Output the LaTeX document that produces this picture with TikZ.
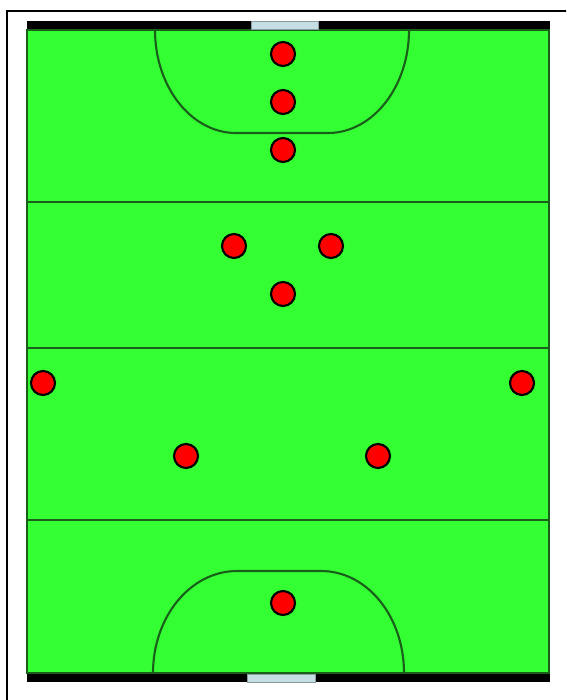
\documentclass[tikz,border=0pt]{standalone}
\definecolor{pitch}{RGB}{51,255,51}
\definecolor{pline}{RGB}{25,95,25}
\definecolor{goalc}{RGB}{196,222,228}
\tikzset{
  player/.style={circle,draw=black,fill=red,line width=0.6pt,minimum size=0.24cm,inner sep=0pt},
  fieldline/.style={draw=pline,line width=0.6pt},
}
\begin{document}
\begin{tikzpicture}[x=0.01cm,y=-0.01cm]
\useasboundingbox (0,0) rectangle (566,700);
\fill[white] (0,0) rectangle (566,700);
\begin{scope}
\clip (0,0) rectangle (566,700);
\draw[black,line width=0.6pt] (7,720) -- (7,11) -- (580,11);
\end{scope}
% end bars
\fill[black] (27,21) rectangle (550,30);
\fill[black] (27,673) rectangle (550,682);
% pitch
\filldraw[fill=pitch,draw=pline,line width=0.5pt] (27,30) rectangle (549,673);
% goals
\filldraw[fill=goalc,draw=goalc!70!black,line width=0.2pt] (251,21) rectangle (318,29);
\filldraw[fill=goalc,draw=goalc!70!black,line width=0.2pt] (247,674) rectangle (315,682);
% lines
\draw[fieldline] (27,202) -- (549,202);
\draw[fieldline] (27,348) -- (549,348);
\draw[fieldline] (27,520) -- (549,520);
% shooting circles
\draw[fieldline] (155,30) .. controls (155,86.9) and (191.3,133) .. (236,133) -- (328,133) .. controls (372.7,133) and (409,86.9) .. (409,30);
\draw[fieldline] (153,673) .. controls (153,616.7) and (190.6,571) .. (237,571) -- (321,571) .. controls (367.4,571) and (404,616.7) .. (404,673);
% players
\node[player] (p1) at (283,54) {};
\node[player] (p2) at (283,102) {};
\node[player] (p3) at (283,150) {};
\node[player] (p4) at (234,246) {};
\node[player] (p5) at (331,246) {};
\node[player] (p6) at (283,294) {};
\node[player] (p7) at (43,383) {};
\node[player] (p8) at (522,383) {};
\node[player] (p9) at (186,456) {};
\node[player] (p10) at (378,456) {};
\node[player] (p11) at (283,603) {};
\end{tikzpicture}
\end{document}
